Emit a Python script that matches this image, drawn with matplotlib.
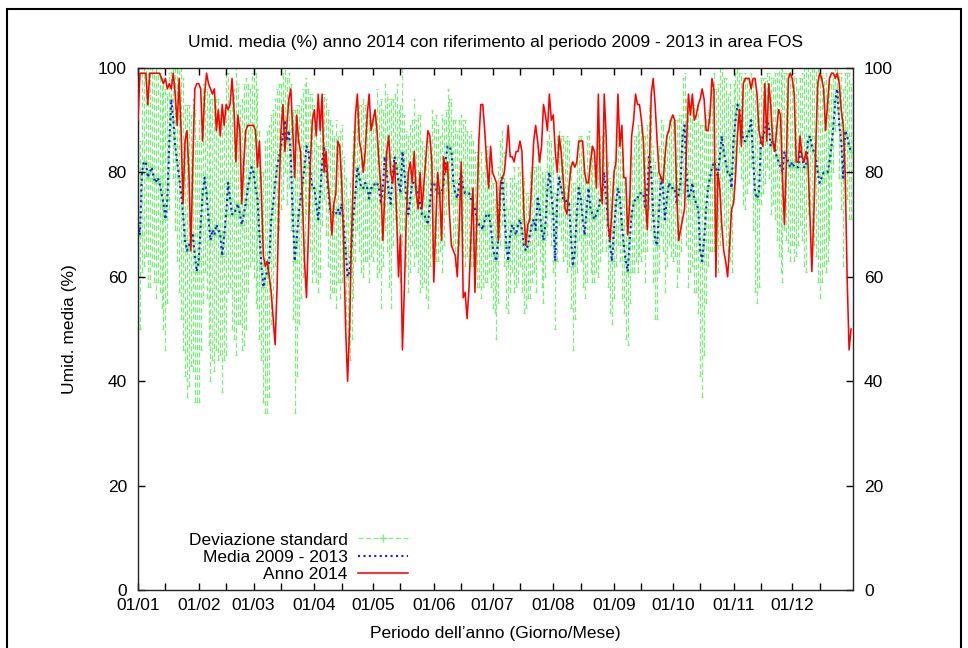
import numpy as np
import matplotlib
matplotlib.use("Agg")
import matplotlib.pyplot as plt
from matplotlib.lines import Line2D
from matplotlib.patches import Rectangle

plt.rcParams['font.family'] = ['Liberation Sans', 'DejaVu Sans']

# Month labels (day/month) and month lengths of 2014
month_labels = ["01/01", "01/02", "01/03", "01/04", "01/05", "01/06",
                "01/07", "01/08", "01/09", "01/10", "01/11", "01/12"]
month_days = [31, 28, 31, 30, 31, 30, 31, 31, 30, 31, 30, 31]

# Daily mean relative humidity, year 2014 (%)
anno_2014 = (
    [90, 99, 99, 99, 99, 93, 99, 99, 99, 99, 99, 99, 98, 97, 98, 96, 97, 96, 99, 95, 89, 98, 88, 74, 86, 88, 80, 65, 82, 96, 97]
    + [97, 96, 86, 95, 99, 97, 96, 95, 96, 88, 92, 87, 93, 89, 93, 92, 93, 98, 92, 82, 91, 88, 74, 82, 88, 89, 89, 89]
    + [89, 88, 81, 86, 76, 64, 62, 63, 60, 57, 52, 47, 58, 76, 88, 93, 84, 89, 94, 96, 88, 79, 91, 86, 84, 74, 63, 56, 68, 82, 90]
    + [92, 87, 95, 88, 95, 80, 84, 78, 74, 68, 74, 76, 86, 85, 78, 66, 50, 40, 50, 68, 80, 91, 95, 86, 84, 80, 84, 91, 95, 88]
    + [90, 92, 88, 82, 77, 67, 76, 84, 87, 80, 78, 82, 72, 60, 68, 46, 58, 72, 80, 82, 78, 84, 76, 73, 80, 73, 78, 83, 88, 87, 82]
    + [59, 70, 80, 76, 67, 83, 80, 82, 72, 66, 65, 64, 60, 70, 82, 56, 57, 52, 58, 68, 77, 57, 72, 86, 93, 93, 88, 82, 77, 85]
    + [80, 79, 78, 67, 78, 79, 80, 84, 89, 83, 83, 82, 84, 84, 86, 84, 72, 66, 70, 71, 78, 86, 89, 86, 82, 85, 93, 91, 88, 95, 90]
    + [91, 84, 80, 87, 84, 79, 73, 72, 77, 81, 82, 81, 82, 86, 86, 86, 80, 78, 78, 82, 85, 84, 77, 95, 78, 74, 95, 87, 70, 67, 73]
    + [80, 82, 95, 85, 89, 79, 79, 68, 74, 87, 90, 95, 93, 93, 90, 86, 75, 69, 80, 95, 98, 93, 86, 80, 79, 78, 83, 87, 88, 90]
    + [91, 90, 76, 67, 69, 71, 73, 85, 95, 91, 95, 90, 91, 93, 94, 96, 94, 88, 88, 91, 98, 96, 60, 80, 77, 70, 65, 63, 60, 66, 73]
    + [74, 79, 87, 92, 85, 97, 98, 98, 98, 96, 98, 98, 95, 88, 86, 85, 97, 86, 97, 93, 86, 84, 88, 92, 91, 79, 70, 82, 98, 99]
    + [98, 95, 82, 82, 87, 83, 82, 84, 82, 72, 61, 72, 85, 97, 99, 98, 96, 88, 93, 98, 99, 99, 98, 99, 97, 92, 89, 80, 60, 46, 50]
)

# Daily mean of the 2009 - 2013 reference period (%)
media_2009_2013 = (
    [70, 68, 80, 82, 82, 79, 80, 81, 79, 78, 79, 78, 76, 74, 71, 75, 86, 94, 90, 85, 82, 79, 76, 72, 67, 65, 66, 67, 68, 64, 61]
    + [63, 70, 76, 79, 76, 71, 67, 69, 68, 70, 69, 68, 64, 68, 72, 78, 75, 72, 72, 73, 74, 72, 70, 72, 74, 77, 79, 81]
    + [80, 77, 75, 68, 62, 58, 60, 61, 63, 71, 74, 78, 81, 83, 85, 87, 90, 86, 88, 83, 72, 63, 67, 72, 75, 78, 81, 85, 84, 80, 77]
    + [77, 74, 71, 76, 82, 85, 81, 77, 73, 73, 72, 72, 73, 72, 74, 70, 65, 60, 61, 66, 72, 76, 81, 79, 77, 77, 78, 77, 75, 77]
    + [77, 78, 78, 77, 74, 77, 83, 80, 76, 74, 80, 83, 81, 78, 76, 84, 80, 75, 72, 75, 78, 78, 77, 76, 74, 72, 72, 71, 70, 74, 78]
    + [78, 77, 76, 76, 76, 78, 82, 85, 85, 84, 78, 76, 75, 78, 80, 77, 76, 76, 76, 75, 74, 73, 71, 70, 70, 69, 71, 72, 72, 70]
    + [66, 64, 63, 68, 76, 79, 73, 66, 63, 68, 70, 69, 68, 70, 71, 69, 66, 65, 66, 68, 70, 71, 69, 75, 73, 69, 67, 70, 77, 80, 76]
    + [72, 63, 75, 79, 77, 75, 75, 74, 74, 68, 62, 65, 72, 77, 75, 71, 68, 73, 77, 73, 72, 71, 72, 73, 75, 76, 80, 75, 70, 66, 63]
    + [69, 74, 77, 75, 70, 66, 63, 61, 67, 72, 74, 75, 75, 76, 76, 76, 73, 77, 83, 80, 72, 67, 66, 73, 79, 77, 71, 75, 78, 77]
    + [77, 77, 74, 76, 78, 87, 89, 80, 75, 76, 78, 75, 74, 73, 65, 63, 67, 73, 77, 79, 81, 82, 81, 79, 83, 87, 84, 82, 80, 80, 77]
    + [86, 90, 93, 92, 89, 86, 86, 87, 88, 90, 83, 76, 75, 76, 86, 87, 88, 90, 89, 85, 86, 85, 83, 82, 81, 80, 84, 83, 82, 81]
    + [82, 81, 81, 81, 84, 83, 81, 81, 86, 87, 85, 84, 83, 80, 78, 79, 80, 80, 80, 82, 85, 89, 94, 96, 89, 86, 79, 88, 87, 85, 84]
)

# Daily standard deviation of the 2009 - 2013 reference period (%)
dev_standard = (
    [20, 18, 19, 20, 18, 21, 22, 19, 20, 22, 20, 21, 22, 24, 25, 20, 13, 7, 11, 16, 19, 22, 24, 26, 26, 28, 27, 24, 26, 28, 25]
    + [27, 24, 21, 18, 20, 24, 27, 25, 26, 24, 25, 23, 26, 24, 27, 21, 17, 22, 24, 28, 23, 21, 24, 25, 24, 20, 17, 18]
    + [20, 22, 21, 20, 18, 22, 26, 27, 26, 20, 18, 16, 15, 14, 12, 12, 10, 12, 11, 14, 20, 29, 26, 21, 19, 18, 16, 13, 12, 15, 18]
    + [16, 15, 14, 16, 12, 10, 13, 15, 17, 16, 15, 18, 14, 16, 15, 13, 14, 15, 17, 18, 16, 13, 12, 14, 16, 17, 15, 14, 16, 13]
    + [14, 12, 18, 16, 20, 15, 14, 15, 18, 20, 14, 12, 16, 14, 17, 18, 11, 13, 15, 14, 12, 16, 13, 15, 17, 14, 13, 15, 16, 12, 14]
    + [12, 14, 13, 11, 15, 12, 10, 11, 9, 10, 12, 14, 13, 12, 11, 13, 14, 12, 11, 13, 12, 11, 13, 12, 14, 11, 12, 13, 11, 12]
    + [12, 11, 15, 13, 10, 9, 11, 12, 10, 11, 9, 12, 10, 11, 9, 12, 13, 11, 10, 12, 11, 10, 12, 9, 10, 11, 12, 10, 9, 8, 10]
    + [11, 13, 12, 9, 10, 12, 11, 13, 12, 14, 16, 13, 11, 10, 12, 13, 12, 14, 11, 12, 13, 12, 11, 13, 12, 11, 9, 10, 12, 13, 12]
    + [13, 12, 11, 12, 14, 13, 15, 14, 12, 11, 13, 12, 14, 12, 13, 11, 14, 12, 10, 11, 13, 15, 14, 12, 11, 12, 14, 13, 12, 13]
    + [14, 13, 16, 15, 13, 11, 10, 14, 17, 15, 16, 18, 17, 20, 24, 26, 22, 18, 15, 14, 16, 17, 15, 18, 17, 13, 14, 16, 15, 17, 16]
    + [11, 9, 7, 8, 10, 12, 13, 11, 10, 9, 14, 19, 20, 18, 12, 11, 10, 9, 10, 13, 12, 14, 16, 18, 20, 21, 15, 16, 17, 18]
    + [16, 18, 17, 15, 14, 16, 19, 20, 14, 13, 16, 18, 19, 21, 22, 20, 18, 19, 17, 15, 12, 9, 6, 4, 10, 13, 17, 11, 12, 14, 13]
)

series_labels = ["Deviazione standard", "Media 2009 - 2013", "Anno 2014"]

days = np.arange(len(anno_2014))
month_starts = np.concatenate([[0], np.cumsum(month_days)[:-1]])
mid_month = month_starts + 14

green = "#7af07a"
blue = "#1c1ce6"
red = "#ff0000"
dash = (0, (4, 2))
dots = (0, (1, 1.6))

W, H = 968, 648
fig = plt.figure(figsize=(W / 100, H / 100), dpi=100)
ax = fig.add_axes([138 / W, 1 - 590 / H, 715 / W, 522 / H])

# Standard deviation drawn as dashed error bars around the reference mean
eb = ax.errorbar(days, media_2009_2013, yerr=dev_standard, fmt="+", color=green,
                 ecolor=green, ls=dash, lw=0.9, elinewidth=0.9, capsize=1.0,
                 markersize=4, markeredgewidth=0.9, zorder=1)
for coll in eb.lines[2]:
    coll.set_linestyle(dash)

ax.plot(days, media_2009_2013, color=blue, ls=dots, lw=1.5, zorder=2)
ax.plot(days, anno_2014, color=red, lw=1.15, zorder=3)

ax.set_xlim(0, 365)
ax.set_ylim(0, 100)
ax.set_xticks(month_starts)
ax.set_xticklabels(month_labels)
ax.set_xticks(mid_month, minor=True)
ax.set_yticks(np.arange(0, 101, 20))

ax.tick_params(axis="x", which="both", direction="in", length=5, width=1,
               top=True, pad=6, labelsize=12.5)
ax.tick_params(axis="y", which="both", direction="in", length=5, width=1,
               right=True, labelright=True, pad=8, labelsize=12.5)
for sp in ax.spines.values():
    sp.set_linewidth(1.0)
    sp.set_color("#222222")

ax.set_ylabel("Umid. media (%)", fontsize=12.5)
ax.yaxis.set_label_coords(-0.085, 0.5)
ax.set_xlabel("Periodo dell\u2019anno (Giorno/Mese)", fontsize=12.5)
ax.xaxis.set_label_coords(0.5, -0.069)
ax.xaxis.label.set_va("top")

fig.text(495.5 / W, 1 - 42 / H,
         "Umid. media (%) anno 2014 con riferimento al periodo 2009 - 2013 in area FOS",
         ha="center", va="center", fontsize=12.5)

handles = [
    Line2D([], [], color=green, ls=dash, lw=0.9, marker="+", markersize=6),
    Line2D([], [], color=blue, ls=dots, lw=1.5),
    Line2D([], [], color=red, lw=1.15),
]
ax.legend(handles, series_labels, loc="center", bbox_to_anchor=(0.2245, 0.0625),
          frameon=False, markerfirst=False, handlelength=2.9, handletextpad=0.6,
          labelspacing=0.13, numpoints=1, fontsize=12.5, borderpad=0)

# Page frame around the figure
fig.add_artist(Rectangle((7 / W, -0.05), (961 - 7) / W, 1.05 - 9 / H,
                         transform=fig.transFigure, fill=False, lw=1.5,
                         ec="black"))

fig.savefig("out.png", dpi=100)
